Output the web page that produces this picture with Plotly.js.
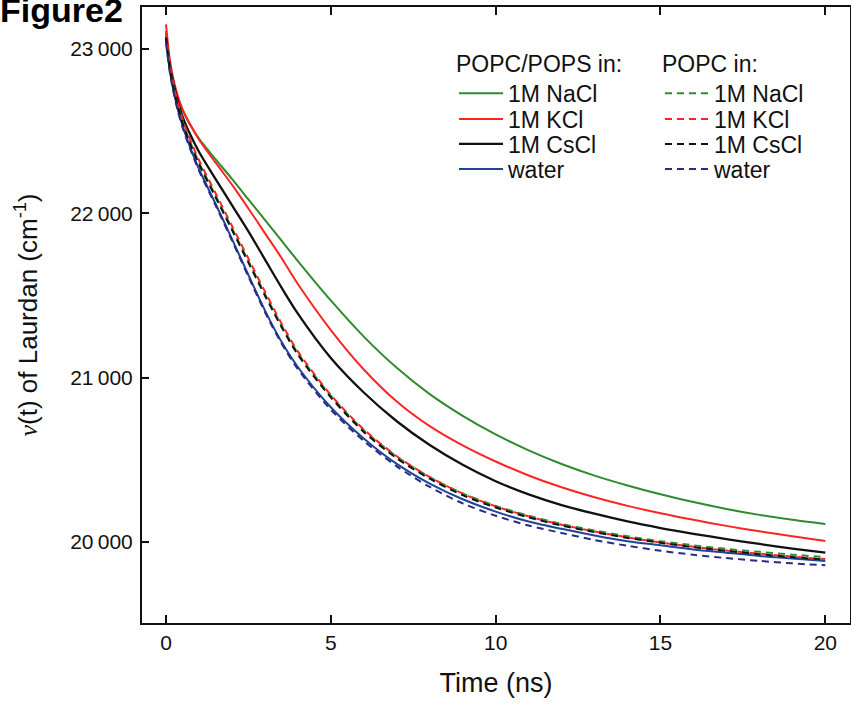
<!DOCTYPE html>
<html>
<head>
<meta charset="utf-8">
<script src="https://cdn.plot.ly/plotly-3.0.1.min.js"></script>
<style>
  html, body { margin: 0; padding: 0; background: #fff; }
  #chart { width: 851px; height: 706px; }
</style>
</head>
<body>
<div id="chart"></div>
<script>
// ---- data ----
const timeNs = [0, 0.1, 0.2, 0.35, 0.5, 0.7, 1, 1.5, 2, 2.5, 3, 3.5, 4, 5, 6, 7, 8, 9, 10, 11, 12, 13, 14, 15, 16, 17, 18, 19, 20];

// POPC/POPS in:
const popsNaCl  = [23100, 22930, 22820, 22710, 22630, 22550, 22455, 22330, 22210, 22085, 21960, 21835, 21710, 21470, 21250, 21060, 20900, 20768, 20655, 20558, 20475, 20404, 20344, 20290, 20243, 20201, 20165, 20135, 20110];
const popsKCl   = [23150, 22960, 22840, 22720, 22635, 22555, 22450, 22310, 22175, 22030, 21880, 21730, 21570, 21290, 21050, 20855, 20705, 20588, 20490, 20405, 20333, 20272, 20220, 20175, 20135, 20098, 20065, 20035, 20006];
const popsCsCl  = [23080, 22920, 22815, 22690, 22590, 22495, 22375, 22210, 22050, 21890, 21720, 21550, 21390, 21120, 20910, 20735, 20590, 20470, 20370, 20290, 20225, 20172, 20125, 20085, 20050, 20018, 19988, 19960, 19935];
const popsWater = [23050, 22890, 22775, 22640, 22535, 22420, 22270, 22060, 21845, 21625, 21410, 21220, 21065, 20820, 20630, 20475, 20355, 20260, 20185, 20125, 20080, 20040, 20005, 19980, 19955, 19935, 19915, 19900, 19885];

// POPC in:
const popcNaCl  = [23080, 22910, 22795, 22665, 22560, 22450, 22310, 22110, 21910, 21710, 21510, 21320, 21150, 20890, 20680, 20520, 20395, 20295, 20220, 20160, 20110, 20070, 20035, 20005, 19980, 19958, 19940, 19923, 19908];
const popcKCl   = [23110, 22930, 22810, 22680, 22575, 22465, 22325, 22125, 21925, 21725, 21525, 21332, 21160, 20895, 20685, 20522, 20395, 20294, 20217, 20156, 20105, 20064, 20028, 19997, 19971, 19948, 19929, 19911, 19896];
const popcCsCl  = [23070, 22900, 22785, 22655, 22550, 22440, 22300, 22100, 21900, 21700, 21500, 21310, 21140, 20880, 20670, 20510, 20385, 20285, 20210, 20150, 20100, 20060, 20025, 19995, 19968, 19946, 19926, 19908, 19892];
const popcWater = [23040, 22880, 22765, 22630, 22525, 22410, 22260, 22050, 21835, 21615, 21400, 21210, 21052, 20805, 20615, 20460, 20335, 20235, 20160, 20100, 20055, 20012, 19977, 19947, 19922, 19902, 19885, 19870, 19858];

const seriesNames = ['1M NaCl', '1M KCl', '1M CsCl', 'water'];
const legendTitles = ['POPC/POPS in:', 'POPC in:'];
const xTickVals = [0, 5, 10, 15, 20];
const xTickText = ['0', '5', '10', '15', '20'];
const yTickVals = [20000, 21000, 22000, 23000];
const yTickText = ['20\u2009000', '21\u2009000', '22\u2009000', '23\u2009000'];

// ---- styles ----
const solidColors  = ['#2e8b2e', '#ff2424', '#111111', '#1f4596'];
const dashedColors = ['#2e8b2e', '#ff2424', '#111111', '#2a2a86'];
const FONT = 'Liberation Sans, Arial, sans-serif';
const LEG_SIZE = 23;

const popsSeries = [popsNaCl, popsKCl, popsCsCl, popsWater];
const popcSeries = [popcNaCl, popcKCl, popcCsCl, popcWater];

// one legend per entry so the rows can be packed as tightly as in the reference
const legendIds = ['legend', 'legend2', 'legend3', 'legend4', 'legend5', 'legend6', 'legend7', 'legend8'];

const traces = [];
popsSeries.forEach((ys, i) => {
  traces.push({
    x: timeNs, y: ys, type: 'scatter', mode: 'lines',
    name: seriesNames[i], legend: legendIds[i],
    line: { color: solidColors[i], width: i === 2 ? 2.3 : 2, shape: 'spline', smoothing: 0.8 }
  });
});
popcSeries.forEach((ys, i) => {
  traces.push({
    x: timeNs, y: ys, type: 'scatter', mode: 'lines',
    name: seriesNames[i], legend: legendIds[4 + i],
    line: { color: dashedColors[i], width: 2, dash: '7px,5px', shape: 'spline', smoothing: 0.8 }
  });
});

const PLOT_L = 142, PLOT_W = 708, PLOT_T = 7, PLOT_H = 616;
const px2x = (px) => (px - PLOT_L) / PLOT_W;
const py2y = (py) => 1 - (py - PLOT_T) / PLOT_H;

function makeLegend(colLeftPx, rowPx, title) {
  const lg = {
    x: px2x(colLeftPx), xanchor: 'left',
    y: py2y(rowPx), yanchor: title ? 'top' : 'middle',
    bgcolor: 'rgba(0,0,0,0)', borderwidth: 0,
    font: { family: FONT, size: LEG_SIZE, color: '#111' },
    itemwidth: 44, tracegroupgap: 0
  };
  if (title) {
    lg.title = { text: title, font: { family: FONT, size: LEG_SIZE, color: '#111' } };
  }
  return lg;
}

const layout = {
  width: 851, height: 706,
  margin: { l: PLOT_L, r: 1, t: PLOT_T, b: 83, pad: 0 },
  paper_bgcolor: '#fff', plot_bgcolor: '#fff',
  showlegend: true,
  font: { family: FONT, color: '#111' },
  xaxis: {
    range: [-0.728, 20.749],
    tickvals: xTickVals, ticktext: xTickText,
    ticks: 'inside', ticklen: 8, tickwidth: 2, tickcolor: '#111',
    showline: true, linecolor: '#111', linewidth: 2, mirror: 'ticks',
    showgrid: false, zeroline: false,
    tickfont: { family: FONT, size: 21, color: '#111' },
    ticklabelstandoff: 0,
    title: { text: 'Time (ns)', font: { family: FONT, size: 27, color: '#111' }, standoff: 20 }
  },
  yaxis: {
    range: [19507, 23256],
    tickvals: yTickVals, ticktext: yTickText,
    ticks: 'inside', ticklen: 7, tickwidth: 2, tickcolor: '#111',
    showline: true, linecolor: '#111', linewidth: 2, mirror: true,
    showgrid: false, zeroline: false,
    tickfont: { family: FONT, size: 21, color: '#111' },
    ticklabelstandoff: 3,
    title: {
      text: '<span style="font-family:Liberation Serif;font-style:italic">\u03bd</span>(t) of Laurdan (cm<sup>-1</sup>)',
      font: { family: FONT, size: 26, color: '#111' }, standoff: 25
    }
  },
  legend:  makeLegend(454, 42, legendTitles[0]),
  legend2: makeLegend(454, 119),
  legend3: makeLegend(454, 144),
  legend4: makeLegend(454, 169),
  legend5: makeLegend(660, 42, legendTitles[1]),
  legend6: makeLegend(660, 119),
  legend7: makeLegend(660, 144),
  legend8: makeLegend(660, 169),
  annotations: [{
    text: '<b>Figure2</b>', xref: 'paper', yref: 'paper', x: 0, y: 1,
    xanchor: 'left', yanchor: 'middle', xshift: -144, yshift: -3,
    showarrow: false, font: { family: FONT, size: 34, color: '#000' }
  }]
};

Plotly.newPlot('chart', traces, layout, { displayModeBar: false, staticPlot: true });
</script>
</body>
</html>
